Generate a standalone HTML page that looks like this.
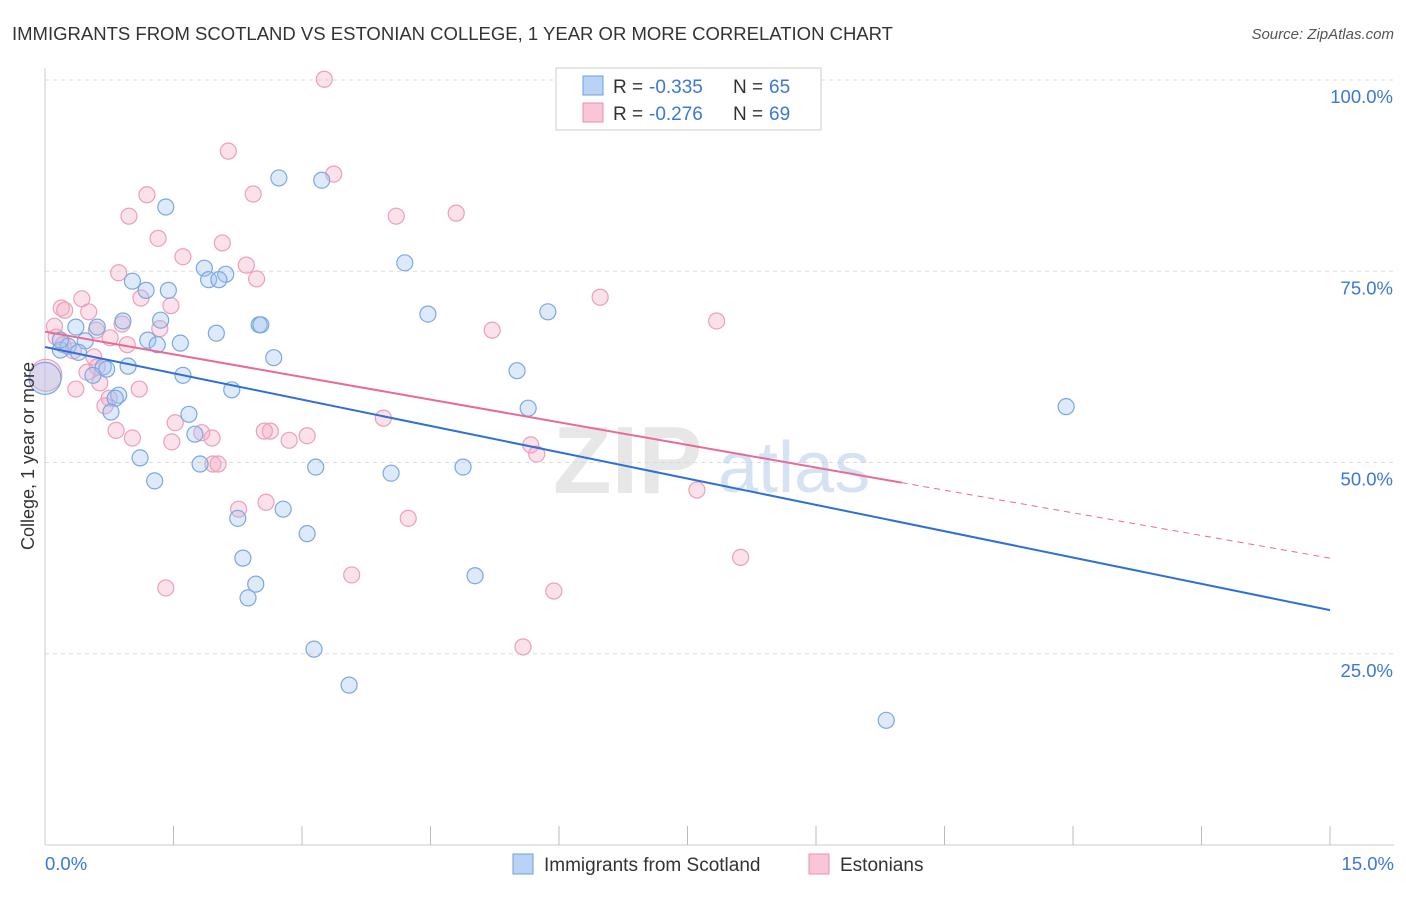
<!DOCTYPE html>
<html><head><meta charset="utf-8"><style>
body{margin:0;background:#fff;font-family:"Liberation Sans",sans-serif;}
svg text{font-family:"Liberation Sans",sans-serif;}
</style></head><body>
<svg id="chart" width="1406" height="892" xmlns="http://www.w3.org/2000/svg">
<text x="12" y="40" font-size="18" fill="#333" textLength="881" lengthAdjust="spacingAndGlyphs">IMMIGRANTS FROM SCOTLAND VS ESTONIAN COLLEGE, 1 YEAR OR MORE CORRELATION CHART</text>
<text x="1394" y="39" font-size="15" fill="#555" text-anchor="end" font-style="italic">Source: ZipAtlas.com</text>
<g id="grid"></g>
<g>
<text x="553" y="493" font-size="96" font-family="Liberation Serif" font-weight="bold" fill="#d8d8d8" opacity="0.6">ZIP</text>
<text x="718" y="492" font-size="72" fill="#b8d0ec" opacity="0.6">atlas</text>
</g>
<g id="points"></g>
<g id="trends"></g>
<text transform="translate(34,456) rotate(-90)" font-size="18" fill="#333" text-anchor="middle">College, 1 year or more</text>
<g>
<rect x="556" y="68" width="265" height="62" fill="#fff" stroke="#ccc"/>
<rect x="583" y="76" width="20" height="19" fill="#b9d3f5" stroke="#6a9fe0"/>
<text x="613" y="93" font-size="19" fill="#333">R =</text>
<text x="649" y="93" font-size="19" fill="#3a78d8">-0.335</text>
<text x="733" y="93" font-size="19" fill="#333">N =</text>
<text x="769" y="93" font-size="19" fill="#3a78d8">65</text>
<rect x="583" y="103" width="20" height="19" fill="#f8c6d6" stroke="#e890b0"/>
<text x="613" y="120" font-size="19" fill="#333">R =</text>
<text x="649" y="120" font-size="19" fill="#3a78d8">-0.276</text>
<text x="733" y="120" font-size="19" fill="#333">N =</text>
<text x="769" y="120" font-size="19" fill="#3a78d8">69</text>
</g>
<g>
<rect x="513" y="854" width="20" height="20" fill="#b9d3f5" stroke="#6a9fe0"/>
<text x="544" y="871" font-size="19" fill="#333">Immigrants from Scotland</text>
<rect x="809" y="854" width="20" height="20" fill="#f8c6d6" stroke="#e890b0"/>
<text x="840" y="871" font-size="19" fill="#333">Estonians</text>
</g>
</svg>
<script>
const yTicks=[25,50,75,100];
const yTickLabels=["25.0%","50.0%","75.0%","100.0%"];
const xTickCount=10;
const blueX=[1.41,2.73,3.23,4.20,1.86,2.11,1.91,2.03,1.02,1.18,1.44,4.47,5.87,0.91,1.35,2.50,2.52,2.00,0.36,0.61,1.20,1.58,1.31,0.47,0.18,0.27,0.39,2.67,0.68,0.97,0.72,0.56,1.61,5.51,2.18,0.86,0.82,1.68,0.77,5.64,11.92,1.75,1.11,1.81,3.16,4.88,4.04,1.28,2.78,2.25,3.06,2.31,2.46,5.02,2.37,3.14,3.55,9.82,0.0,0.18];
const blueY=[83.4,87.2,86.9,76.1,75.4,74.6,73.9,73.9,73.7,72.5,72.5,69.4,69.7,68.5,68.6,68.0,68.0,66.9,67.7,67.7,66.0,65.6,65.4,65.9,64.7,65.2,64.4,63.7,62.5,62.6,62.2,61.4,61.4,62.0,59.5,58.8,58.4,56.3,56.6,57.1,57.3,53.7,50.6,49.8,49.4,49.4,48.6,47.6,43.9,42.7,40.7,37.5,34.1,35.2,32.3,25.6,20.9,16.3,61.0,66.0];
const blueBig=[58];
const pinkX=[3.26,2.14,3.37,2.43,1.19,0.98,4.10,4.80,1.32,2.07,1.61,2.35,0.86,2.47,6.48,0.43,1.12,0.19,1.47,0.51,0.11,0.23,0.60,0.90,1.34,5.22,7.84,0.13,0.76,0.96,0.21,0.33,0.57,0.61,0.49,0.64,0.36,1.10,0.01,0.75,0.70,3.95,1.52,0.83,1.02,1.83,2.63,2.56,3.06,2.85,1.48,1.95,5.67,5.74,1.96,2.02,7.61,2.26,2.58,4.24,3.58,8.12,1.41,5.94,5.58];
const pinkY=[100.1,90.7,87.7,85.1,85.0,82.2,82.2,82.6,79.3,78.7,76.9,75.8,74.8,74.0,71.6,71.4,71.5,70.2,70.5,69.7,67.8,69.9,67.3,68.1,67.5,67.3,68.5,66.4,66.3,65.4,65.4,64.6,63.8,62.5,61.8,60.4,59.6,59.6,61.4,58.4,57.4,55.8,55.2,54.2,53.2,53.9,54.1,54.1,53.5,52.9,52.7,53.2,52.3,51.1,49.8,49.8,46.4,43.9,44.8,42.7,35.3,37.6,33.6,33.2,25.9];
const pinkBig=[38];
const blueTrend=[65.1,30.7];
const pinkTrend=[67.1,37.5];
const pinkSolidEnd=10.0;

const NS="http://www.w3.org/2000/svg";
const X0=45,X1=1330,Y0=845,Y100=80;
function xs(v){return X0+(X1-X0)*v/15;}
function ys(v){return Y0-(Y0-Y100)*v/100;}
function mk(tag,attrs,parent){const e=document.createElementNS(NS,tag);for(const k in attrs)e.setAttribute(k,attrs[k]);parent.appendChild(e);return e;}
const grid=document.getElementById('grid');
yTicks.forEach((t,i)=>{
  const l=mk('line',{x1:X0,x2:1394,y1:ys(t),y2:ys(t),stroke:'#ddd','stroke-dasharray':'4,4'},grid);
  
  
  const tx=mk('text',{x:1393,y:ys(t)+23,'font-size':18.5,fill:'#3a78d8','text-anchor':'end'},grid);
  tx.textContent=yTickLabels[i];
  
  
});
const ax=mk('line',{x1:X0,x2:X0,y1:68,y2:Y0,stroke:'#ccc'},grid);


const bx=mk('line',{x1:X0,x2:1394,y1:Y0,y2:Y0,stroke:'#ccc'},grid);


for(let i=1;i<=xTickCount;i++){
  const t=mk('line',{x1:xs(i*1.5),x2:xs(i*1.5),y1:826,y2:845,stroke:'#bbb'},grid);
  
  
}
const xl0=mk('text',{x:45,y:870,'font-size':18.5,fill:'#3a78d8'},grid);xl0.textContent='0.0%';


const xl1=mk('text',{x:1394,y:870,'font-size':18.5,fill:'#3a78d8','text-anchor':'end'},grid);xl1.textContent='15.0%';



const pts=document.getElementById('points');
pinkX.forEach((x,i)=>{
  const c=mk('circle',{cx:xs(x),cy:ys(pinkY[i]),r:pinkBig.includes(i)?16:8,fill:'rgba(244,170,195,0.35)',stroke:'#eaa0bb','stroke-width':1.2},pts);
  
  
});
blueX.forEach((x,i)=>{
  const c=mk('circle',{cx:xs(x),cy:ys(blueY[i]),r:blueBig.includes(i)?16:8,fill:'rgba(160,195,240,0.35)',stroke:'#7aa8e2','stroke-width':1.2},pts);
  
  
});
const tr=document.getElementById('trends');
const bl=mk('line',{x1:xs(0),y1:ys(blueTrend[0]),x2:xs(15),y2:ys(blueTrend[1]),stroke:'#2f6fd6','stroke-width':2},tr);


const pm=pinkTrend[0]+(pinkTrend[1]-pinkTrend[0])*pinkSolidEnd/15;
const pl=mk('line',{x1:xs(0),y1:ys(pinkTrend[0]),x2:xs(pinkSolidEnd),y2:ys(pm),stroke:'#e86a96','stroke-width':2},tr);


const pd=mk('line',{x1:xs(pinkSolidEnd),y1:ys(pm),x2:xs(15),y2:ys(pinkTrend[1]),stroke:'#e86a96','stroke-width':1,'stroke-dasharray':'6,5'},tr);


</script>
</body></html>
